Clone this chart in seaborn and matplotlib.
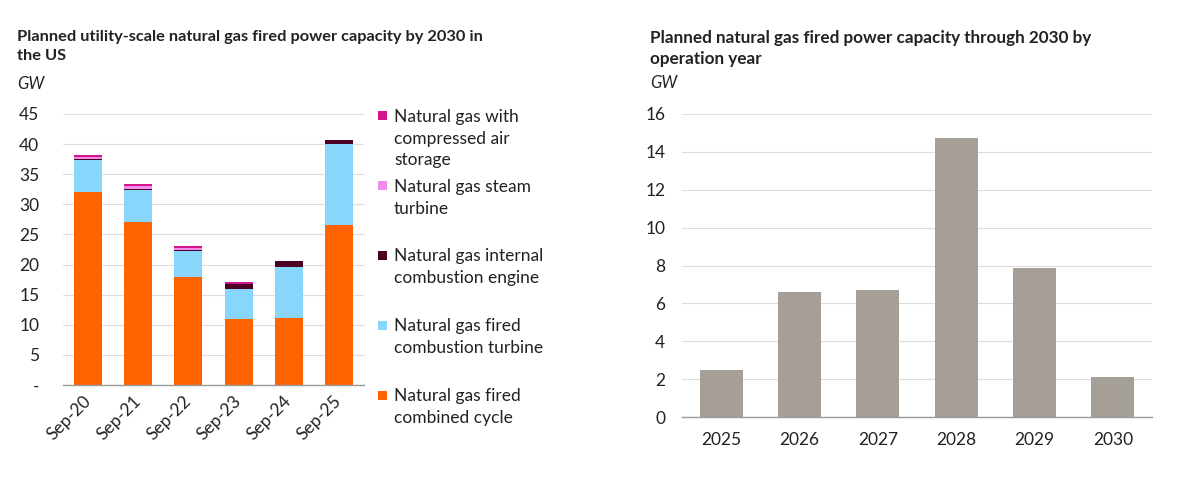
import numpy as np
import pandas as pd
import matplotlib
matplotlib.use("Agg")
import matplotlib.pyplot as plt
import seaborn as sns
from matplotlib.patches import Rectangle
from matplotlib.ticker import FixedLocator

# Dati (GW)
mesi = ["Sep-20", "Sep-21", "Sep-22", "Sep-23", "Sep-24", "Sep-25"]
ciclo_combinato = [32.0, 27.0, 17.9, 11.0, 11.2, 26.5]
turbina_combustione = [5.3, 5.4, 4.3, 5.0, 8.45, 13.5]
motore_combustione = [0.2, 0.2, 0.2, 0.8, 1.0, 0.6]
turbina_vapore = [0.4, 0.5, 0.4, 0.0, 0.0, 0.0]
aria_compressa = [0.3, 0.3, 0.25, 0.25, 0.0, 0.0]

anni = ["2025", "2026", "2027", "2028", "2029", "2030"]
capacita_anno = [2.5, 6.6, 6.7, 14.75, 7.85, 2.1]

nomi_serie = [
    "Natural gas with\ncompressed air\nstorage",
    "Natural gas steam\nturbine",
    "Natural gas internal\ncombustion engine",
    "Natural gas fired\ncombustion turbine",
    "Natural gas fired\ncombined cycle",
]
colori_serie = ["#D4148C", "#F08CEB", "#4B0024", "#89D6FD", "#FF6200"]
grigio = "#A69F97"

sns.set_style("white")
plt.rcParams['font.family'] = ['Lato', 'DejaVu Sans']
testo = "#222222"

W, H = 1200, 490
fig = plt.figure(figsize=(12, 4.9), dpi=100)


def px_box(x0, y_top, x1, y_bot):
    return [x0 / W, 1 - y_bot / H, (x1 - x0) / W, (y_bot - y_top) / H]


def stile_assi(ax, n):
    ax.grid(axis='y', color='#DDDDDD', linewidth=0.8)
    ax.set_axisbelow(True)
    for s in ['left', 'right', 'top']:
        ax.spines[s].set_visible(False)
    ax.spines['bottom'].set_color('#9A9A9A')
    ax.spines['bottom'].set_linewidth(1.0)
    ax.set_xlim(-0.5, n - 0.5)
    ax.xaxis.set_minor_locator(FixedLocator(np.arange(-0.5, n, 1.0)))
    ax.tick_params(axis='x', which='minor', length=5, color='#9A9A9A', width=1)
    ax.tick_params(axis='x', which='major', length=0)
    ax.tick_params(axis='y', length=0)
    ax.set_xlabel("")
    ax.set_ylabel("")


# --- Grafico sinistro: barre impilate ---
ax1 = fig.add_axes(px_box(63, 114, 364, 385))
df = pd.DataFrame({
    'mese': mesi,
    'cc': ciclo_combinato,
    'ct': turbina_combustione,
    'ice': motore_combustione,
    'st': turbina_vapore,
    'caes': aria_compressa,
})
cum = df[['cc', 'ct', 'ice', 'st', 'caes']].cumsum(axis=1)
# disegno dal totale verso il basso, ogni strato copre il precedente
for col, colore in zip(['caes', 'st', 'ice', 'ct', 'cc'], colori_serie):
    sns.barplot(x=df['mese'], y=cum[col], color=colore, saturation=1,
                width=0.56, ax=ax1, linewidth=0)
stile_assi(ax1, len(mesi))
ax1.set_ylim(0, 45)
ax1.set_yticks(range(0, 50, 5))
ax1.set_yticklabels(['-'] + [str(v) for v in range(5, 50, 5)])
ax1.tick_params(axis='y', labelsize=12.5, pad=17, labelcolor=testo)
ax1.tick_params(axis='x', which='major', labelsize=12.5, pad=10, labelcolor=testo)
plt.setp(ax1.get_xticklabels(), rotation=45, ha='right', va='center',
         rotation_mode='anchor')

# legenda manuale
y_voci = [111, 181, 250, 320, 390]
for nome, colore, yv in zip(nomi_serie, colori_serie, y_voci):
    fig.add_artist(Rectangle((378 / W, 1 - (yv + 9.5) / H), 9 / W, 9 / H,
                             transform=fig.transFigure, color=colore, lw=0))
    fig.text(394 / W, 1 - (yv - 2) / H, nome, ha='left', va='top',
             fontsize=12.5, color=testo, linespacing=1.43)

fig.text(17 / W, 1 - 30 / H,
         "Planned utility-scale natural gas fired power capacity by 2030 in\nthe US",
         ha='left', va='top', fontsize=11.8, fontweight='bold', color=testo,
         linespacing=1.42)
fig.text(17 / W, 1 - 76 / H, "GW", ha='left', va='top', fontsize=12,
         style='italic', color=testo)

# --- Grafico destro: barre semplici ---
ax2 = fig.add_axes(px_box(682, 114, 1152, 417))
sns.barplot(x=anni, y=capacita_anno, color=grigio, saturation=1,
            width=0.55, ax=ax2, linewidth=0)
stile_assi(ax2, len(anni))
ax2.set_ylim(0, 16)
ax2.set_yticks(range(0, 18, 2))
ax2.tick_params(axis='y', labelsize=12.5, pad=12, labelcolor=testo)
ax2.tick_params(axis='x', which='major', labelsize=12.5, pad=11, labelcolor=testo)

fig.text(650 / W, 1 - 30 / H,
         "Planned natural gas fired power capacity through 2030 by\noperation year",
         ha='left', va='top', fontsize=12.3, fontweight='bold', color=testo,
         linespacing=1.38)
fig.text(650 / W, 1 - 75 / H, "GW", ha='left', va='top', fontsize=12,
         style='italic', color=testo)

fig.savefig("out.png", dpi=100, facecolor='white')
